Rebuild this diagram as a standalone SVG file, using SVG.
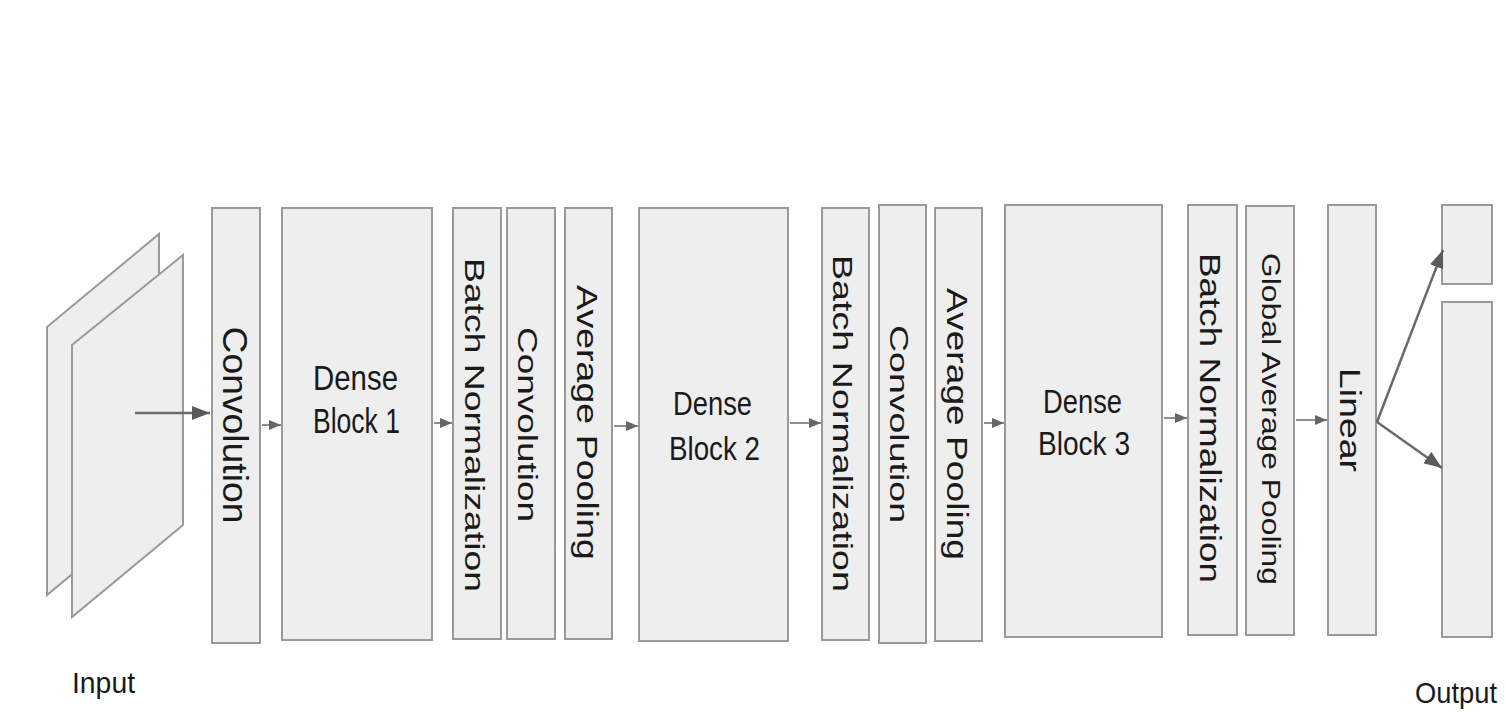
<svg xmlns="http://www.w3.org/2000/svg" width="1506" height="720" viewBox="0 0 1506 720">
<defs>
<style>
.box{fill:#eeeeee;stroke:#9a9a9a;stroke-width:2}
.lbl{font-family:"Liberation Sans",Arial,sans-serif;fill:#1a1a1a;}
.rl{text-anchor:middle}
.conn{stroke:#6a6a6a;fill:none}
.thin{stroke-width:1.5}
.thick{stroke-width:2.5}
</style>
<marker id="sm" markerUnits="userSpaceOnUse" viewBox="0 0 12 10" markerWidth="12" markerHeight="10" refX="12" refY="5" orient="auto">
<path d="M0,0 L12,5 L0,10 Z" fill="#666"/>
</marker>
<marker id="lg" markerUnits="userSpaceOnUse" viewBox="0 0 18 14" markerWidth="18" markerHeight="14" refX="18" refY="7" orient="auto">
<path d="M0,0 L18,7 L0,14 Z" fill="#5a5a5a"/>
</marker>
</defs>
<rect width="1506" height="720" fill="#ffffff"/>

<g id="input">
<polygon class="box" points="47,327 159,234 159,502 47,595"/>
<polygon class="box" points="72,345 183,255 183,525 72,617"/>
<text class="lbl" x="72" y="693" font-size="29" textLength="63" lengthAdjust="spacingAndGlyphs">Input</text>
</g>

<g id="conv1">
<rect class="box" x="212" y="208" width="48" height="435"/>
<text class="lbl rl" transform="translate(223,425) rotate(90)" font-size="35" textLength="197" lengthAdjust="spacingAndGlyphs">Convolution</text>
</g>

<g id="dense1">
<rect class="box" x="282" y="208" width="150" height="432"/>
<text class="lbl" x="313" y="390" font-size="35" textLength="85" lengthAdjust="spacingAndGlyphs">Dense</text>
<text class="lbl" x="313" y="433" font-size="35" textLength="87" lengthAdjust="spacingAndGlyphs">Block 1</text>
</g>

<g id="bn1">
<rect class="box" x="453" y="208" width="48" height="431"/>
<text class="lbl rl" transform="translate(465,425) rotate(90)" font-size="28" textLength="334" lengthAdjust="spacingAndGlyphs">Batch Normalization</text>
</g>

<g id="conv2">
<rect class="box" x="507" y="208" width="48" height="431"/>
<text class="lbl rl" transform="translate(518,424.5) rotate(90)" font-size="27" textLength="195" lengthAdjust="spacingAndGlyphs">Convolution</text>
</g>

<g id="pool1">
<rect class="box" x="565" y="208" width="47" height="431"/>
<text class="lbl rl" transform="translate(577,422.5) rotate(90)" font-size="29" textLength="275" lengthAdjust="spacingAndGlyphs">Average Pooling</text>
</g>

<g id="dense2">
<rect class="box" x="639" y="208" width="149" height="433"/>
<text class="lbl" x="673" y="415" font-size="33" textLength="79" lengthAdjust="spacingAndGlyphs">Dense</text>
<text class="lbl" x="669" y="460" font-size="33" textLength="91" lengthAdjust="spacingAndGlyphs">Block 2</text>
</g>

<g id="bn2">
<rect class="box" x="822" y="208" width="47" height="432"/>
<text class="lbl rl" transform="translate(833,423.5) rotate(90)" font-size="28" textLength="337" lengthAdjust="spacingAndGlyphs">Batch Normalization</text>
</g>

<g id="conv3">
<rect class="box" x="879" y="205" width="47" height="438"/>
<text class="lbl rl" transform="translate(890,424) rotate(90)" font-size="26" textLength="198" lengthAdjust="spacingAndGlyphs">Convolution</text>
</g>

<g id="pool2">
<rect class="box" x="935" y="208" width="47" height="433"/>
<text class="lbl rl" transform="translate(947,424) rotate(90)" font-size="30" textLength="272" lengthAdjust="spacingAndGlyphs">Average Pooling</text>
</g>

<g id="dense3">
<rect class="box" x="1005" y="205" width="157" height="432"/>
<text class="lbl" x="1043" y="413" font-size="33" textLength="79" lengthAdjust="spacingAndGlyphs">Dense</text>
<text class="lbl" x="1038" y="455" font-size="33" textLength="92" lengthAdjust="spacingAndGlyphs">Block 3</text>
</g>

<g id="bn3">
<rect class="box" x="1188" y="205" width="49" height="430"/>
<text class="lbl rl" transform="translate(1200,418) rotate(90)" font-size="30" textLength="330" lengthAdjust="spacingAndGlyphs">Batch Normalization</text>
</g>

<g id="gap">
<rect class="box" x="1246" y="206" width="48" height="429"/>
<text class="lbl rl" transform="translate(1262,419) rotate(90)" font-size="26" textLength="332" lengthAdjust="spacingAndGlyphs">Global Average Pooling</text>
</g>

<g id="linear">
<rect class="box" x="1328" y="205" width="48" height="430"/>
<text class="lbl rl" transform="translate(1340,420) rotate(90)" font-size="30" textLength="104" lengthAdjust="spacingAndGlyphs">Linear</text>
</g>

<g id="output">
<rect class="box" x="1442" y="205" width="50" height="79"/>
<rect class="box" x="1442" y="302" width="50" height="335"/>
<text class="lbl" x="1415" y="703" font-size="29" textLength="82" lengthAdjust="spacingAndGlyphs">Output</text>
</g>

<g id="connectors">
<line class="conn thick" x1="135" y1="413" x2="210" y2="413" marker-end="url(#lg)"/>
<line class="conn thin" x1="262" y1="425" x2="281" y2="425" marker-end="url(#sm)"/>
<line class="conn thin" x1="434" y1="423" x2="452" y2="423" marker-end="url(#sm)"/>
<line class="conn thin" x1="614" y1="426" x2="638" y2="426" marker-end="url(#sm)"/>
<line class="conn thin" x1="790" y1="423" x2="821" y2="423" marker-end="url(#sm)"/>
<line class="conn thin" x1="984" y1="423" x2="1004" y2="423" marker-end="url(#sm)"/>
<line class="conn thin" x1="1164" y1="418" x2="1187" y2="418" marker-end="url(#sm)"/>
<line class="conn thin" x1="1296" y1="420" x2="1327" y2="420" marker-end="url(#sm)"/>
<line class="conn thick" x1="1377" y1="422" x2="1443" y2="250" marker-end="url(#lg)"/>
<line class="conn thick" x1="1377" y1="422" x2="1442" y2="468" marker-end="url(#lg)"/>
</g>
</svg>
